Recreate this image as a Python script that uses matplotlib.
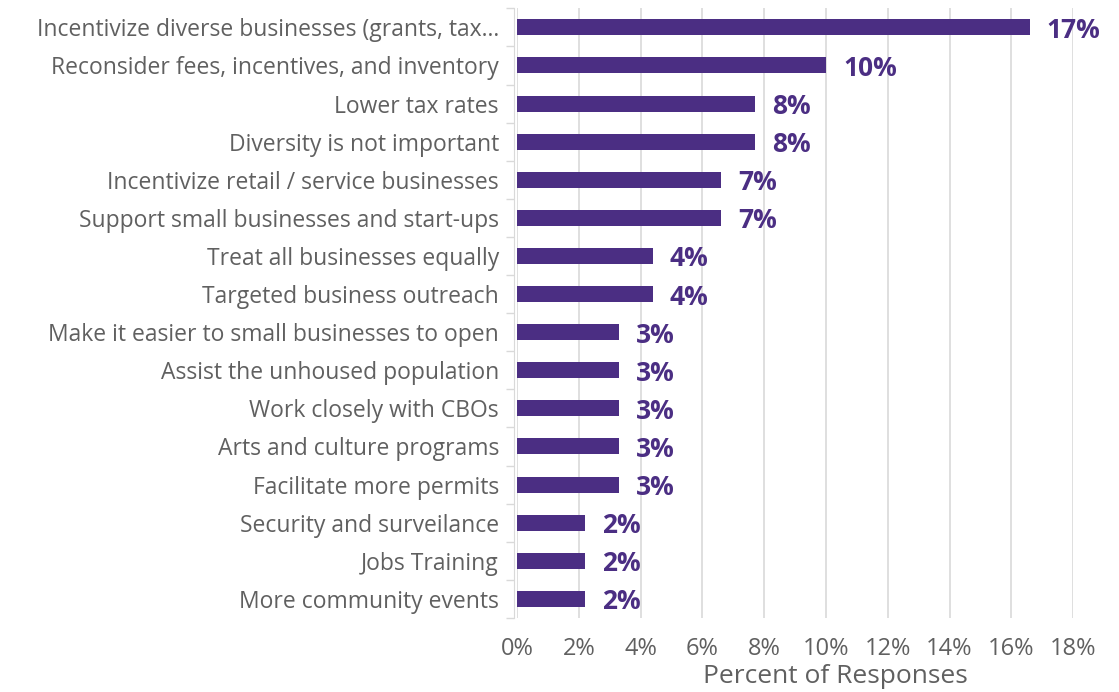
import numpy as np
import matplotlib
matplotlib.use("Agg")
import matplotlib.pyplot as plt
from matplotlib.ticker import FixedLocator, PercentFormatter

plt.rcParams["font.family"] = ["Open Sans", "DejaVu Sans"]

# survey responses, share of all answers
categories = [
    "Incentivize diverse businesses (grants, tax\u2026",
    "Reconsider fees, incentives, and inventory",
    "Lower tax rates",
    "Diversity is not important",
    "Incentivize retail / service businesses",
    "Support small businesses and start-ups",
    "Treat all businesses equally",
    "Targeted business outreach",
    "Make it easier to small businesses to open",
    "Assist the unhoused population",
    "Work closely with CBOs",
    "Arts and culture programs",
    "Facilitate more permits",
    "Security and surveilance",
    "Jobs Training",
    "More community events",
]
percent = [16.6, 10.0, 7.7, 7.7, 6.6, 6.6, 4.4, 4.4, 3.3, 3.3, 3.3, 3.3, 3.3, 2.2, 2.2, 2.2]
xticks = [0, 2, 4, 6, 8, 10, 12, 14, 16, 18]

PURPLE = "#4b2e83"
GREY_TXT = "#606060"
GRID = "#d9d9d9"

fig = plt.figure(figsize=(11.19, 6.92), dpi=100)
ax = fig.add_axes([0.462, 0.107, 0.497, 0.881])

y = np.arange(len(categories))
ax.barh(y, percent, height=0.42, color=PURPLE, zorder=3)

for yi, v in zip(y, percent):
    ax.text(v + 0.55, yi, f"{v:.0f}%", va="center_baseline", ha="left",
            fontsize=19, fontweight="bold", color=PURPLE)

ax.set_ylim(len(categories) - 0.5, -0.5)
ax.set_xlim(0, 18)
ax.set_yticks(y)
ax.set_yticklabels(categories)
ax.tick_params(axis="y", which="major", length=0, pad=11,
               labelsize=16.5, labelcolor=GREY_TXT)
ax.yaxis.set_minor_locator(FixedLocator(np.arange(-0.5, len(categories), 1)))
ax.tick_params(axis="y", which="minor", length=6, color=GRID, width=1)

ax.set_xticks(xticks)
ax.xaxis.set_major_formatter(PercentFormatter(decimals=0))
ax.tick_params(axis="x", length=0, labelsize=17, labelcolor=GREY_TXT, pad=14)
ax.set_xlabel("Percent of Responses", fontsize=19, color=GREY_TXT)
ax.xaxis.set_label_coords(0.572, -0.076)

ax.grid(axis="x", color=GRID, lw=1.2, zorder=0)
for side in ["top", "right", "bottom"]:
    ax.spines[side].set_visible(False)
ax.spines["left"].set_color(GRID)
ax.spines["left"].set_position(("outward", 2))

fig.savefig("out.png", dpi=100, facecolor="white")
